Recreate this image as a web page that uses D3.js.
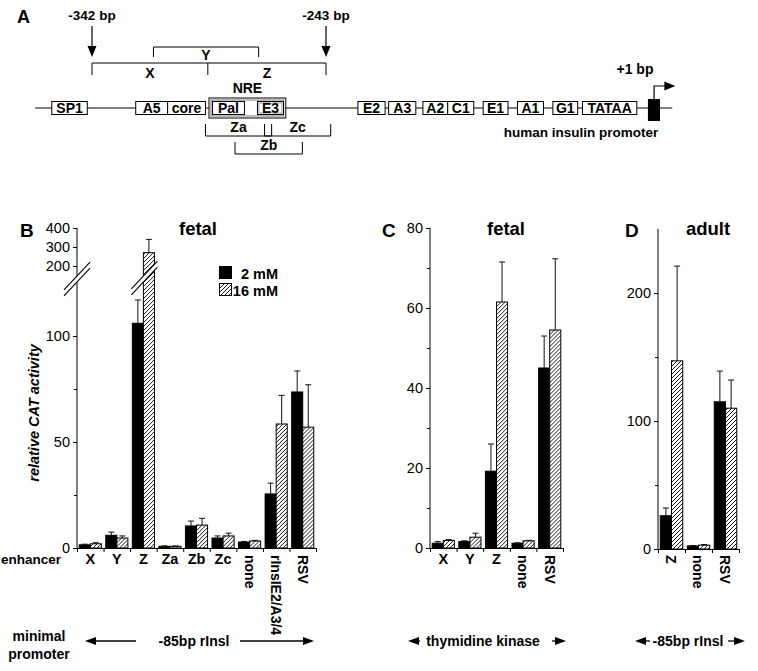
<!DOCTYPE html>
<html>
<head>
<meta charset="utf-8">
<script src="https://cdn.jsdelivr.net/npm/d3@7"></script>
<style>
  body { margin: 0; background: #fff; }
  text { font-family: "Liberation Sans", Arial, Helvetica, sans-serif; }
</style>
</head>
<body>
<svg id="fig" width="758" height="671"></svg>
<script>
// ---- data ----
const series = ["2 mM", "16 mM"];

// panel B (fetal, -85bp rIns minimal promoter)
const catB = ["X", "Y", "Z", "Za", "Zb", "Zc", "none", "rInsIE2/A3/4", "RSV"];
const b2mM = [1.5, 6, 106, 0.8, 10.4, 4.7, 2.8, 25.5, 73.6];
const b2mMErr = [0.3, 1.5, 11, 0.2, 2.3, 1.0, 0.3, 5.1, 9.9];
const b16mM = [2.0, 4.7, 270, 0.8, 10.8, 5.7, 3.3, 58.5, 57];
const b16mMErr = [0.5, 1.0, 70, 0.2, 3.2, 1.3, 0.3, 13.5, 20];
const ticksB = [0, 50, 100];
const minorB = [25, 75];
const ticksBUpper = [200, 300, 400];

// panel C (fetal, thymidine kinase)
const catC = ["X", "Y", "Z", "none", "RSV"];
const c2mM = [1.2, 1.6, 19.2, 1.2, 45];
const c2mMErr = [0.4, 0.2, 6.8, 0.1, 8];
const c16mM = [1.9, 2.7, 61.5, 1.8, 54.5];
const c16mMErr = [0.2, 1.0, 10, 0.1, 17.8];
const ticksC = [0, 20, 40, 60, 80];
const minorC = [10, 30, 50, 70];

// panel D (adult)
const catD = ["Z", "none", "RSV"];
const d2mM = [26, 2.4, 115];
const d2mMErr = [6, 0.3, 24];
const d16mM = [147, 3, 110];
const d16mMErr = [74, 0.5, 22];
const ticksD = [0, 100, 200];
const minorD = [50, 150];

// panel A: promoter elements, positions in bp (schematic)
const elements = [
  {name: "SP1", from: -359, to: -344},
  {name: "A5", from: -323.5, to: -310},
  {name: "core", from: -310, to: -294},
  {name: "Pal", from: -291, to: -277.5},
  {name: "E3", from: -272, to: -261, dbl: true},
  {name: "E2", from: -229.5, to: -218},
  {name: "A3", from: -216.5, to: -205},
  {name: "A2", from: -202, to: -191.5},
  {name: "C1", from: -191.5, to: -180.5},
  {name: "E1", from: -176.5, to: -166},
  {name: "A1", from: -162, to: -151},
  {name: "G1", from: -147, to: -136.5},
  {name: "TATAA", from: -134.5, to: -111.5}
];
const nre = {name: "NRE", from: -292.5, to: -260};
const topBrackets = [{name: "X", from: -342, to: -293}, {name: "Z", from: -293, to: -243}];
const yBracket = {name: "Y", from: -316, to: -271.5};
const subBrackets = [
  {name: "Za", from: -294, to: -266, level: 0},
  {name: "Zc", from: -269, to: -241, level: 0},
  {name: "Zb", from: -281.5, to: -253, level: 1}
];
const marks = [-342, -243];

const svg = d3.select("#fig");
svg.append("rect").attr("width", 758).attr("height", 671).attr("fill", "#fff");

const defs = svg.append("defs");
const pat = defs.append("pattern").attr("id", "hatch")
  .attr("patternUnits", "userSpaceOnUse").attr("width", 4).attr("height", 4);
pat.append("rect").attr("width", 4).attr("height", 4).attr("fill", "#fff");
pat.append("path").attr("d", "M-1,1 l2,-2 M0,4 l4,-4 M3,5 l2,-2")
  .attr("stroke", "#000").attr("stroke-width", 0.9);

function arrowHead(g, x, y, dir, len, half) {
  // dir: "down", "left", "right"
  let pts;
  if (dir === "down") pts = [[x - half, y - len], [x + half, y - len], [x, y]];
  else if (dir === "left") pts = [[x, y], [x + len, y - half], [x + len, y + half]];
  else pts = [[x, y], [x - len, y - half], [x - len, y + half]];
  g.append("path").attr("d", d3.line()(pts) + "Z").attr("fill", "#000");
}

// ================= Panel A =================
const gA = svg.append("g");
const xA = d3.scaleLinear().domain([-342, -243]).range([92, 326]);
const lineY = 108;

gA.append("text").attr("x", 17).attr("y", 23).attr("font-size", 18).attr("font-weight", "bold").text("A");

marks.forEach(m => {
  gA.append("text").attr("x", xA(m)).attr("y", 20).attr("text-anchor", "middle")
    .attr("font-size", 13.5).attr("font-weight", "bold").text(m + " bp");
  gA.append("line").attr("x1", xA(m)).attr("x2", xA(m)).attr("y1", 26).attr("y2", 48)
    .attr("stroke", "#000").attr("stroke-width", 1.2);
  arrowHead(gA, xA(m), 57, "down", 11, 4.5);
});

// X / Z bracket
gA.append("path")
  .attr("d", `M${xA(-342)},75V63H${xA(-243)}V75M${xA(topBrackets[0].to)},63V75`)
  .attr("fill", "none").attr("stroke", "#000");
topBrackets.forEach(b => {
  gA.append("text").attr("x", (xA(b.from) + xA(b.to)) / 2).attr("y", 78)
    .attr("text-anchor", "middle").attr("font-size", 14).attr("font-weight", "bold").text(b.name);
});
// Y bracket
gA.append("path")
  .attr("d", `M${xA(yBracket.from)},57V47H${xA(yBracket.to)}V57`)
  .attr("fill", "none").attr("stroke", "#000");
gA.append("text").attr("x", (xA(yBracket.from) + xA(yBracket.to)) / 2).attr("y", 60)
  .attr("text-anchor", "middle").attr("font-size", 14).attr("font-weight", "bold").text(yBracket.name);

// main line
gA.append("line").attr("x1", xA(-366)).attr("x2", xA(-96.5)).attr("y1", lineY).attr("y2", lineY)
  .attr("stroke", "#000");

// NRE box (double)
gA.append("rect").attr("x", xA(nre.from)).attr("y", lineY - 10).attr("width", xA(nre.to) - xA(nre.from))
  .attr("height", 20).attr("fill", "#fff").attr("stroke", "#000");
gA.append("rect").attr("x", xA(nre.from) + 2).attr("y", lineY - 8).attr("width", xA(nre.to) - xA(nre.from) - 4)
  .attr("height", 16).attr("fill", "#fff").attr("stroke", "#555").attr("stroke-width", 0.8);
gA.append("text").attr("x", (xA(nre.from) + xA(nre.to)) / 2).attr("y", 93).attr("text-anchor", "middle")
  .attr("font-size", 14).attr("font-weight", "bold").text("NRE");

gA.selectAll("rect.el").data(elements).join("rect").attr("class", "el")
  .attr("x", d => xA(d.from)).attr("y", lineY - 6.5)
  .attr("width", d => xA(d.to) - xA(d.from)).attr("height", 13)
  .attr("fill", "#fff").attr("stroke", "#000");
gA.selectAll("rect.el2").data(elements.filter(d => d.dbl)).join("rect").attr("class", "el2")
  .attr("x", d => xA(d.from) + 1.5).attr("y", lineY - 5)
  .attr("width", d => xA(d.to) - xA(d.from) - 3).attr("height", 10)
  .attr("fill", "none").attr("stroke", "#777").attr("stroke-width", 0.7);
gA.selectAll("text.el").data(elements).join("text").attr("class", "el")
  .attr("x", d => (xA(d.from) + xA(d.to)) / 2).attr("y", lineY + 5)
  .attr("text-anchor", "middle").attr("font-size", 14).attr("font-weight", "bold")
  .text(d => d.name);

// transcription start
gA.append("rect").attr("x", xA(-106.8)).attr("y", 99).attr("width", xA(-101.7) - xA(-106.8)).attr("height", 22)
  .attr("fill", "#000");
gA.append("path").attr("d", `M${xA(-104.2)},99V86H${xA(-98)}`).attr("fill", "none")
  .attr("stroke", "#000").attr("stroke-width", 1.2);
arrowHead(gA, xA(-95.2), 86, "right", 11, 4.5);
gA.append("text").attr("x", 635).attr("y", 74).attr("text-anchor", "middle")
  .attr("font-size", 14).attr("font-weight", "bold").text("+1 bp");
gA.append("text").attr("x", 581).attr("y", 137).attr("text-anchor", "middle")
  .attr("font-size", 13.5).attr("font-weight", "bold").text("human insulin promoter");

// sub brackets
subBrackets.forEach(b => {
  const top = b.level === 0 ? 124 : 142, bot = top + 12;
  gA.append("path").attr("d", `M${xA(b.from)},${top}V${bot}H${xA(b.to)}V${top}`)
    .attr("fill", "none").attr("stroke", "#000");
  gA.append("text").attr("x", (xA(b.from) + xA(b.to)) / 2).attr("y", top + 7.5)
    .attr("text-anchor", "middle").attr("font-size", 14).attr("font-weight", "bold").text(b.name);
});

// ================= bar panels =================
function drawPanel(p) {
  const g = svg.append("g");
  const y0 = p.y(0);
  const x = d3.scaleBand().domain(p.cats).range([p.x0, p.x1]);
  const xs = d3.scaleBand().domain(series).range([0, x.bandwidth()]).paddingInner(0).paddingOuter(0.2);
  const rows = p.cats.map((c, i) => ({
    cat: c,
    vals: [
      {s: series[0], v: p.v2[i], e: p.e2[i]},
      {s: series[1], v: p.v16[i], e: p.e16[i]}
    ]
  }));

  const grp = g.selectAll("g.cat").data(rows).join("g").attr("class", "cat")
    .attr("transform", d => `translate(${x(d.cat)},0)`);
  grp.selectAll("rect").data(d => d.vals).join("rect")
    .attr("x", d => xs(d.s)).attr("width", xs.bandwidth())
    .attr("y", d => p.y(d.v)).attr("height", d => y0 - p.y(d.v))
    .attr("fill", d => d.s === series[0] ? "#000" : "url(#hatch)")
    .attr("stroke", "#000").attr("stroke-width", 1);
  grp.selectAll("path.err").data(d => d.vals).join("path").attr("class", "err")
    .attr("d", d => {
      const cx = xs(d.s) + xs.bandwidth() / 2, y1 = p.y(d.v), y2 = p.y(d.v + d.e);
      return `M${cx},${y1}V${y2}M${cx - 3},${y2}H${cx + 3}`;
    })
    .attr("fill", "none").attr("stroke", "#111").attr("stroke-width", 1);

  // x axis with ticks at band boundaries
  const xb = d3.scaleLinear().domain([0, p.cats.length]).range([p.x0, p.x1]);
  g.append("g").attr("transform", `translate(0,${y0})`)
    .call(d3.axisBottom(xb).ticks(p.cats.length).tickFormat("").tickSize(4).tickSizeOuter(0))
    .call(a => a.selectAll("path,line").attr("stroke", "#000"));

  // y axis
  g.append("line").attr("x1", p.x0).attr("x2", p.x0).attr("y1", y0).attr("y2", p.yTop)
    .attr("stroke", "#000");
  p.axes.forEach(ax => {
    g.append("g").attr("transform", `translate(${p.x0},0)`)
      .call(d3.axisLeft(ax.scale).tickValues(ax.ticks).tickSize(4).tickPadding(3))
      .call(a => a.select(".domain").remove())
      .call(a => a.selectAll("line").attr("stroke", "#000"))
      .call(a => a.selectAll("text").attr("font-size", 14.5).attr("fill", "#000")
        .attr("font-family", '"Liberation Sans", Arial, sans-serif'));
    if (ax.minor) {
      g.append("g").attr("transform", `translate(${p.x0},0)`)
        .call(d3.axisLeft(ax.scale).tickValues(ax.minor).tickSize(3).tickFormat(""))
        .call(a => a.select(".domain").remove())
        .call(a => a.selectAll("line").attr("stroke", "#000"));
    }
  });

  // category labels
  rows.forEach(r => {
    const cx = x(r.cat) + x.bandwidth() / 2;
    if (p.rotated.includes(r.cat)) {
      g.append("text").attr("transform", `translate(${cx},555) rotate(90)`)
        .attr("dy", "0.36em").attr("font-size", 14).attr("font-weight", "bold").text(r.cat);
    } else {
      g.append("text").attr("x", cx).attr("y", 564).attr("text-anchor", "middle")
        .attr("font-size", 14.5).attr("font-weight", "bold").text(r.cat);
    }
  });

  g.append("text").attr("x", p.titleX).attr("y", 235).attr("text-anchor", "middle")
    .attr("font-size", 18.5).attr("font-weight", "bold").text(p.title);
  g.append("text").attr("x", p.letterX).attr("y", 237).attr("font-size", 19)
    .attr("font-weight", "bold").text(p.letter);
  return {g, x, xs};
}

// panel B with broken axis
const yBLow = d3.scaleLinear().domain([0, 100]).range([548, 336]);
const yBHigh = d3.scaleLinear().domain([200, 400]).range([266, 228]);
const yB = v => v > 150 ? yBHigh(v) : yBLow(v);

const pB = drawPanel({
  cats: catB, v2: b2mM, e2: b2mMErr, v16: b16mM, e16: b16mMErr,
  x0: 77, x1: 316, y: yB, yTop: yBHigh(400),
  axes: [{scale: yBLow, ticks: ticksB, minor: minorB}, {scale: yBHigh, ticks: ticksBUpper}],
  rotated: ["none", "rInsIE2/A3/4", "RSV"],
  title: "fetal", titleX: 198, letter: "B", letterX: 20
});

// break marks
function breakMark(cx, cy, halfW) {
  const s = 1.07, gap = 6;
  const p1 = [[cx - halfW, cy + halfW * s - gap / 2], [cx + halfW, cy - halfW * s - gap / 2]];
  const p2 = [[cx - halfW, cy + halfW * s + gap / 2], [cx + halfW, cy - halfW * s + gap / 2]];
  svg.append("path").attr("d", d3.line()([p1[0], p1[1], p2[1], p2[0]]) + "Z").attr("fill", "#fff");
  [p1, p2].forEach(pp => svg.append("path").attr("d", d3.line()(pp)).attr("stroke", "#000")
    .attr("stroke-width", 1.1).attr("fill", "none"));
}
breakMark(77, 279, 13);
breakMark(pB.x("Z") + pB.x.bandwidth() / 2 + 1, 278, 13);

// legend
series.forEach((s, i) => {
  svg.append("rect").attr("x", 219.5).attr("y", 266.5 + i * 17).attr("width", 12).attr("height", 12)
    .attr("fill", i === 0 ? "#000" : "url(#hatch)").attr("stroke", "#000");
  svg.append("text").attr("x", 278).attr("y", 278.5 + i * 17).attr("text-anchor", "end")
    .attr("font-size", 14.5).attr("font-weight", "bold").text(s);
});

svg.append("text").attr("transform", "translate(39,413) rotate(-90)").attr("text-anchor", "middle")
  .attr("font-size", 14.5).attr("font-weight", "bold").attr("font-style", "italic")
  .text("relative CAT activity");
svg.append("text").attr("x", 1).attr("y", 564).attr("font-size", 13.5).attr("font-weight", "bold")
  .text("enhancer");

// panel C
const yC = d3.scaleLinear().domain([0, 80]).range([548, 228]);
drawPanel({
  cats: catC, v2: c2mM, e2: c2mMErr, v16: c16mM, e16: c16mMErr,
  x0: 430, x1: 563, y: yC, yTop: yC(80),
  axes: [{scale: yC, ticks: ticksC, minor: minorC}],
  rotated: ["none", "RSV"],
  title: "fetal", titleX: 506, letter: "C", letterX: 382
});

// panel D
const yD = d3.scaleLinear().domain([0, 200]).range([549, 293]);
drawPanel({
  cats: catD, v2: d2mM, e2: d2mMErr, v16: d16mM, e16: d16mMErr,
  x0: 658, x1: 739, y: yD, yTop: yD(250),
  axes: [{scale: yD, ticks: ticksD, minor: minorD}],
  rotated: ["Z", "none", "RSV"],
  title: "adult", titleX: 708, letter: "D", letterX: 625
});

// ================= bottom: minimal promoter =================
svg.append("text").attr("x", 39).attr("y", 641).attr("text-anchor", "middle")
  .attr("font-size", 14).attr("font-weight", "bold").text("minimal");
svg.append("text").attr("x", 39).attr("y", 659).attr("text-anchor", "middle")
  .attr("font-size", 14).attr("font-weight", "bold").text("promoter");

const promoters = [
  {label: "-85bp rInsl", left: 85, l2: 136, textX: 194, r1: 240, right: 314},
  {label: "thymidine kinase", left: 408, l2: 420, textX: 483, r1: 552, right: 566},
  {label: "-85bp rInsl", left: 635, l2: 650, textX: 688, r1: 728, right: 745}
];
const ay = 641;
promoters.forEach(p => {
  svg.append("line").attr("x1", p.left + 8).attr("x2", p.l2).attr("y1", ay).attr("y2", ay)
    .attr("stroke", "#000").attr("stroke-width", 1.3);
  svg.append("line").attr("x1", p.r1).attr("x2", p.right - 8).attr("y1", ay).attr("y2", ay)
    .attr("stroke", "#000").attr("stroke-width", 1.3);
  arrowHead(svg, p.left, ay, "left", 11, 4);
  arrowHead(svg, p.right, ay, "right", 11, 4);
  svg.append("text").attr("x", p.textX).attr("y", ay + 5).attr("text-anchor", "middle")
    .attr("font-size", 14).attr("font-weight", "bold").text(p.label);
});
</script>
</body>
</html>
